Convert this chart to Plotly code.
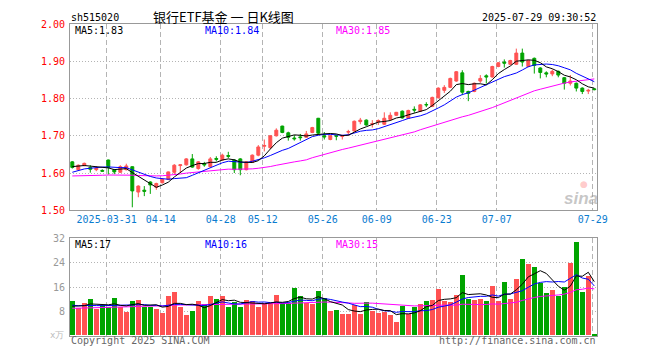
import plotly.graph_objects as go
import pandas as pd

# ---------------- data ----------------
holidays = ["2025-04-04", "2025-05-01", "2025-05-02", "2025-05-05", "2025-06-02"]
dates = [d.strftime("%Y-%m-%d") for d in pd.bdate_range("2025-03-21", "2025-07-29")
         if d.strftime("%Y-%m-%d") not in holidays]

open_ = [1.630, 1.609, 1.620, 1.615, 1.609, 1.607, 1.635, 1.609, 1.602, 1.609,
         1.617, 1.549, 1.554, 1.576, 1.562, 1.574, 1.583, 1.602, 1.620, 1.622,
         1.638, 1.612, 1.625, 1.617, 1.639, 1.635, 1.647, 1.635, 1.638, 1.609,
         1.629, 1.648, 1.672, 1.668, 1.700, 1.726, 1.708, 1.694, 1.697, 1.696,
         1.709, 1.747, 1.700, 1.690, 1.700, 1.698, 1.710, 1.713, 1.738, 1.742,
         1.731, 1.737, 1.731, 1.744, 1.755, 1.766, 1.747, 1.771, 1.766, 1.784,
         1.779, 1.802, 1.822, 1.830, 1.847, 1.869, 1.819, 1.819, 1.847, 1.861,
         1.858, 1.886, 1.898, 1.892, 1.892, 1.922, 1.886, 1.908, 1.882, 1.869,
         1.866, 1.873, 1.856, 1.841, 1.841, 1.828, 1.820, 1.826]
high = [1.632, 1.623, 1.628, 1.621, 1.618, 1.610, 1.636, 1.611, 1.621, 1.625,
        1.618, 1.567, 1.565, 1.578, 1.574, 1.585, 1.604, 1.624, 1.623, 1.640,
        1.651, 1.632, 1.630, 1.643, 1.645, 1.652, 1.657, 1.637, 1.640, 1.632,
        1.650, 1.675, 1.690, 1.702, 1.720, 1.727, 1.711, 1.702, 1.705, 1.713,
        1.724, 1.748, 1.710, 1.702, 1.702, 1.703, 1.716, 1.741, 1.748, 1.744,
        1.742, 1.744, 1.763, 1.763, 1.764, 1.768, 1.770, 1.779, 1.785, 1.790,
        1.805, 1.830, 1.836, 1.856, 1.874, 1.876, 1.821, 1.843, 1.863, 1.865,
        1.888, 1.898, 1.905, 1.904, 1.934, 1.934, 1.904, 1.910, 1.884, 1.873,
        1.878, 1.875, 1.858, 1.863, 1.843, 1.830, 1.826, 1.828]
low = [1.612, 1.607, 1.618, 1.601, 1.605, 1.603, 1.596, 1.597, 1.600, 1.607,
       1.508, 1.535, 1.538, 1.544, 1.555, 1.572, 1.581, 1.596, 1.600, 1.620,
       1.614, 1.609, 1.617, 1.615, 1.631, 1.633, 1.640, 1.600, 1.594, 1.607,
       1.627, 1.645, 1.658, 1.665, 1.698, 1.707, 1.687, 1.687, 1.687, 1.695,
       1.707, 1.705, 1.690, 1.688, 1.688, 1.690, 1.700, 1.711, 1.731, 1.727,
       1.722, 1.729, 1.729, 1.740, 1.753, 1.746, 1.745, 1.762, 1.764, 1.777,
       1.777, 1.800, 1.815, 1.828, 1.845, 1.809, 1.793, 1.817, 1.842, 1.840,
       1.856, 1.884, 1.883, 1.890, 1.890, 1.886, 1.884, 1.867, 1.854, 1.857,
       1.860, 1.857, 1.824, 1.835, 1.819, 1.812, 1.812, 1.822]
close = [1.615, 1.621, 1.626, 1.610, 1.613, 1.605, 1.615, 1.603, 1.617, 1.619,
         1.552, 1.565, 1.551, 1.568, 1.572, 1.583, 1.603, 1.621, 1.622, 1.638,
         1.616, 1.630, 1.622, 1.638, 1.637, 1.648, 1.645, 1.609, 1.609, 1.630,
         1.648, 1.670, 1.674, 1.700, 1.715, 1.709, 1.696, 1.692, 1.695, 1.705,
         1.722, 1.707, 1.697, 1.700, 1.699, 1.700, 1.711, 1.739, 1.742, 1.729,
         1.733, 1.741, 1.747, 1.755, 1.763, 1.748, 1.768, 1.769, 1.783, 1.783,
         1.803, 1.828, 1.830, 1.854, 1.872, 1.817, 1.814, 1.841, 1.854, 1.858,
         1.886, 1.896, 1.895, 1.902, 1.922, 1.898, 1.902, 1.889, 1.870, 1.866,
         1.873, 1.863, 1.841, 1.847, 1.828, 1.819, 1.822, 1.824]
volume = [11.3, 8.9, 10.7, 12.0, 8.6, 9.9, 9.4, 12.4, 9.4, 7.8,
          11.4, 11.7, 9.4, 9.4, 8.8, 7.5, 12.9, 14.4, 9.4, 6.8,
          8.1, 11.3, 10.2, 12.9, 12.0, 12.9, 9.4, 11.1, 9.4, 11.6,
          11.3, 9.3, 10.7, 10.7, 13.3, 10.7, 10.7, 15.6, 12.9, 10.7,
          10.2, 14.6, 12.4, 8.0, 8.3, 7.0, 7.0, 10.0, 7.0, 11.0,
          8.0, 7.5, 7.7, 6.7, 4.5, 9.6, 7.1, 9.3, 10.3, 11.3,
          11.6, 15.2, 11.3, 11.0, 13.3, 20.0, 12.0, 11.6, 12.0, 11.3,
          16.2, 11.3, 17.5, 12.0, 18.5, 25.4, 23.5, 22.5, 17.2, 13.9,
          14.9, 12.9, 15.9, 23.8, 31.0, 14.3, 19.5, 0.3]

# sessions before the visible window (only feed the moving averages)
prior_close = [1.598, 1.605, 1.610, 1.607, 1.600, 1.596, 1.602, 1.605, 1.599, 1.598,
               1.590, 1.582, 1.575, 1.568, 1.570, 1.565, 1.572, 1.568, 1.566, 1.569,
               1.575, 1.583, 1.590, 1.592, 1.595, 1.612, 1.620, 1.618, 1.621]
prior_volume = [8.0, 9.1, 7.5, 8.8, 9.6, 7.9, 8.2, 8.7, 7.6, 9.0,
                8.3, 8.9, 7.8, 8.1, 9.4, 8.0, 7.7, 8.6, 8.5, 9.3,
                10.8, 9.9, 11.2, 9.6, 10.2, 8.9, 9.8, 9.1, 9.2]

tick_dates = ["2025-03-31", "2025-04-14", "2025-04-28", "2025-05-12", "2025-05-26",
              "2025-06-09", "2025-06-23", "2025-07-07", "2025-07-29"]
tick_text = ["2025-03-31", "04-14", "04-28", "05-12", "05-26", "06-09", "06-23", "07-07", "07-29"]
price_ticks = [1.50, 1.60, 1.70, 1.80, 1.90, 2.00]
volume_ticks = [8, 16, 24, 32]

symbol = "sh515020"
title = "银行ETF基金 一 日K线图"
stamp = "2025-07-29 09:30:52"
price_ma_text = ["MA5:1.83", "MA10:1.84", "MA30:1.85"]
vol_ma_text = ["MA5:17", "MA10:16", "MA30:15"]

# ---------------- derived ----------------
n = len(dates)
x = list(range(n))
npc = len(prior_close)
cs = pd.Series(prior_close + close)
vs = pd.Series(prior_volume + volume)
ma = {k: cs.rolling(k).mean().iloc[npc:].tolist() for k in (5, 10, 30)}
vma = {k: vs.rolling(k).mean().iloc[npc:].tolist() for k in (5, 10, 30)}

RED = "#ff5252"
GREEN = "#00a400"
MA_COL = {5: "#000000", 10: "#0000ff", 30: "#ff00ff"}
MONO = "DejaVu Sans Mono"

vol_colors = [RED if c >= o else GREEN for o, c in zip(open_, close)]
tickvals = [dates.index(d) - 0.27 for d in tick_dates]

fig = go.Figure()
fig.add_trace(go.Candlestick(
    x=x, open=open_, high=high, low=low, close=close,
    increasing=dict(line=dict(color=RED, width=1), fillcolor=RED),
    decreasing=dict(line=dict(color=GREEN, width=1), fillcolor=GREEN),
    whiskerwidth=0, showlegend=False, hoverinfo="skip", xaxis="x", yaxis="y"))
for k in (30, 10, 5):
    fig.add_trace(go.Scatter(x=x, y=ma[k], mode="lines", line=dict(color=MA_COL[k], width=1),
                             showlegend=False, hoverinfo="skip", xaxis="x", yaxis="y"))

fig.add_trace(go.Bar(x=x, y=volume, width=0.84, marker=dict(color=vol_colors, line=dict(width=0)),
                     showlegend=False, hoverinfo="skip", xaxis="x2", yaxis="y2"))
for k in (30, 10, 5):
    fig.add_trace(go.Scatter(x=x, y=vma[k], mode="lines", line=dict(color=MA_COL[k], width=1),
                             showlegend=False, hoverinfo="skip", xaxis="x2", yaxis="y2"))

# page coordinates (the browser page puts the figure 8px in from top/left)
OFF = 8
W, H = 652, 344
PL, PR, PT, PB = 70, 597, 20, 341          # plot box on the page
L, R, T, B = PL - OFF, W + OFF - PR, PT - OFF, H + OFF - PB
PW, PH = W - L - R, H - T - B


def px(xp):
    return (xp - PL) / PW


def py(yp):
    return (PB - yp) / PH


xr = [(PL - 72.3) / 6, (PR - 72.3) / 6]
common_x = dict(range=xr, tickmode="array", tickvals=tickvals, showgrid=True,
                gridcolor="#b4b4b4", griddash="5px,3px", gridwidth=1, zeroline=False,
                showline=True, mirror=True, linecolor="#999999", linewidth=1, ticks="")
common_y = dict(showgrid=True, gridcolor="#b4b4b4", griddash="1px,2px", gridwidth=1,
                zeroline=False, showline=True, mirror=True, linecolor="#999999", linewidth=1,
                ticks="outside", ticklen=2, tickcolor="rgba(0,0,0,0)")

fig.update_layout(
    width=W, height=H, autosize=False,
    margin=dict(l=L, r=R, t=T, b=B, pad=0),
    paper_bgcolor="white", plot_bgcolor="white",
    boxgap=0.3, bargap=0, hovermode=False,
    xaxis=dict(domain=[0, 1], anchor="y", ticktext=tick_text,
               tickfont=dict(family=MONO, size=10, color="#0a7ccf"),
               rangeslider=dict(visible=False), **common_x),
    yaxis=dict(domain=[py(211.7), 1], anchor="x", range=[1.4999, 2.0001],
               tickvals=price_ticks, ticktext=[f"{v:.2f}" for v in price_ticks],
               tickfont=dict(family=MONO, size=10, color="#ff0000"), **common_y),
    xaxis2=dict(domain=[0, 1], anchor="y2", showticklabels=False, **common_x),
    yaxis2=dict(domain=[0, py(240.3)], anchor="x2", range=[-0.2, 32.2],
                tickvals=volume_ticks, ticktext=[str(v) for v in volume_ticks],
                tickfont=dict(family=MONO, size=10, color="#999999"), **common_y),
)

ann = []


def add_text(text, xp, yp, color="#000000", size=10, xanchor="left", family=MONO):
    ann.append(dict(text=text, x=px(xp), y=py(yp), xref="paper", yref="paper",
                    xanchor=xanchor, yanchor="middle", showarrow=False,
                    font=dict(family=family, size=size, color=color)))


add_text(symbol, 69, 13)
add_text(title, 223.5, 12, size=13, xanchor="center", family="Noto Sans CJK SC")
add_text(stamp, 598, 13, xanchor="right")
for t, xp, k in zip(price_ma_text, [73, 203, 333.5], (5, 10, 30)):
    add_text(t, xp, 27, color=MA_COL[k])
for t, xp, k in zip(vol_ma_text, [73, 203, 333.5], (5, 10, 30)):
    add_text(t, xp, 246.5, color=MA_COL[k])
add_text("Copyright 2025 SINA.COM", 69, 346, color="#666666")
add_text("http://finance.sina.com.cn", 598, 346, color="#666666", xanchor="right")
add_text("x万", 66, 340, color="#bbbbbb", size=9, xanchor="right")
add_text("<b><i>sina</i></b>", 581, 200, color="rgba(150,150,150,0.55)", size=17,
         xanchor="center", family="Arial, Liberation Sans")
add_text("●", 584, 185, color="rgba(255,140,140,0.45)", size=9, xanchor="center",
         family="DejaVu Sans")
fig.update_layout(annotations=ann)

fig.write_html("out.html")
